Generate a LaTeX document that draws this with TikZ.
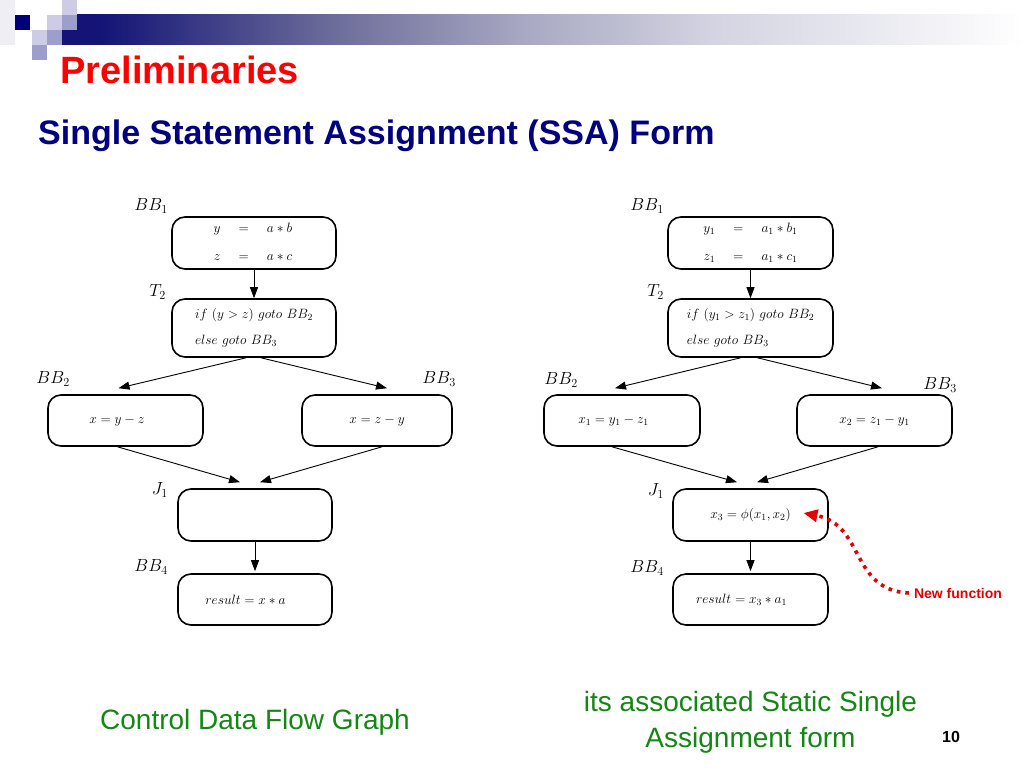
\RequirePackage{fix-cm}
\documentclass[tikz,border=0pt]{standalone}
\usepackage{amsmath,amssymb}
\usepackage[no-math]{fontspec}
\usepackage{xcolor}
\usepackage{tikz}
\usetikzlibrary{arrows.meta}
\newfontfamily\slidefont{Liberation Sans}

\definecolor{hdrnavy}{RGB}{20,20,118}
\definecolor{hdrmid}{RGB}{108,108,154}
\definecolor{hdrgrey}{RGB}{168,168,194}
\definecolor{hdrpale}{RGB}{212,212,226}
\definecolor{hdrfaint}{RGB}{238,238,244}
\definecolor{sqlight}{RGB}{204,204,228}
\definecolor{sqmid}{RGB}{158,158,204}
\definecolor{sqdark}{RGB}{0,0,122}
\definecolor{titlered}{RGB}{255,0,0}
\definecolor{subnavy}{RGB}{0,0,128}
\definecolor{capgreen}{RGB}{20,134,20}
\definecolor{noteRed}{RGB}{230,0,0}

\pgfdeclarehorizontalshading{hdrfade}{100bp}{color(0bp)=(hdrnavy); color(27bp)=(hdrnavy);
  color(39bp)=(hdrmid); color(49bp)=(hdrgrey); color(59bp)=(hdrpale);
  color(69bp)=(hdrfaint); color(75bp)=(white); color(100bp)=(white)}

\begin{document}
\begin{tikzpicture}[x=1pt,y=-1pt,
    blk/.style={draw,line width=1.6pt,rounded corners=13pt,inner sep=0pt,
      font=\fontsize{13.5}{16}\selectfont},
    lbl/.style={anchor=east,inner sep=0pt,font=\fontsize{17.5}{20}\selectfont},
    flow/.style={-{Triangle[length=11pt,width=8pt]},line width=0.9pt},
    note/.style={noteRed,line width=3.6pt,dash pattern=on 3.6pt off 5pt,
      -{Triangle[length=14pt,width=12pt]}},
    txt/.style={inner sep=0pt,font=\slidefont}]
    %
    \useasboundingbox (0,0) rectangle (1024,768);
    \fill[white] (0,0) rectangle (1024,768);
    %
    % header bar and squares
    \shade[shading=hdrfade] (62,15) rectangle (1024,45);
    \fill[hdrfaint] (0,0) rectangle (15,45);
    \fill[sqdark] (15,15) rectangle (30,30);
    \fill[sqlight] (62,0) rectangle (77,15);
    \fill[sqlight] (47,15) rectangle (62,30);
    \fill[sqmid] (62,15) rectangle (77,30);
    \fill[sqlight] (32,30) rectangle (47,45);
    \fill[sqmid] (47,30) rectangle (62,45);
    \fill[sqmid] (32,45) rectangle (47,60);
    %
    \node[txt,anchor=base west,text=titlered,font=\slidefont\bfseries\fontsize{38}{44}\selectfont]
      (title) at (60,83) {Preliminaries};
    \node[txt,anchor=base west,text=subnavy,font=\slidefont\bfseries\fontsize{34}{40}\selectfont]
      (subtitle) at (38,144) {Single Statement Assignment (SSA) Form};
    %
    % control data flow graph
    \node[blk,minimum width=164pt,minimum height=52pt] (bb1l) at (254,243)
      {\setlength{\arraycolsep}{9pt}$\begin{array}{rcl} y & = & a*b\\[12pt] z & = & a*c\end{array}$\kern2pt};
    \node[blk,minimum width=164pt,minimum height=58pt,align=left] (t2l) at (254,328)
      {$if\ (y>z)\ goto\ BB_2$\\[10pt]$else\ goto\ BB_3$};
    \node[blk,minimum width=155pt,minimum height=51pt] (bb2l) at (125.5,420.5) {$x=y-z$\kern17pt};
    \node[blk,minimum width=150pt,minimum height=51pt] (bb3l) at (377,420.5) {$x=z-y$};
    \node[blk,minimum width=154pt,minimum height=52pt] (j1l) at (255,515) {};
    \node[blk,minimum width=154pt,minimum height=51pt] (bb4l) at (255,599.5) {$result=x*a$\kern19pt};
    %
    \node[lbl] (bb1llbl) at (168,206) {$BB_1$};
    \node[lbl] (t2llbl) at (166,292) {$T_2$};
    \node[lbl] (bb2llbl) at (70,379) {$BB_2$};
    \node[lbl] (bb3llbl) at (456,379) {$BB_3$};
    \node[lbl] (j1llbl) at (168,490) {$J_1$};
    \node[lbl] (bb4llbl) at (168,567) {$BB_4$};
    %
    \draw[flow] (bb1l.south) -- (t2l.north);
    \draw[flow] ([xshift=-8pt]t2l.south) -- ([xshift=-7pt,yshift=6pt]bb2l.north);
    \draw[flow] ([xshift=7pt]t2l.south) -- ([xshift=10pt,yshift=6pt]bb3l.north);
    \draw[flow] ([xshift=-8pt]bb2l.south) -- ([xshift=-15pt,yshift=6pt]j1l.north);
    \draw[flow] ([xshift=5pt]bb3l.south) -- ([xshift=5pt,yshift=6pt]j1l.north);
    \draw[flow] (j1l.south) -- ([yshift=2pt]bb4l.north);
    %
    % static single assignment form
    \node[blk,minimum width=165pt,minimum height=52pt] (bb1r) at (750.5,243)
      {\setlength{\arraycolsep}{9pt}$\begin{array}{rcl} y_1 & = & a_1*b_1\\[12pt] z_1 & = & a_1*c_1\end{array}$};
    \node[blk,minimum width=165pt,minimum height=58pt,align=left] (t2r) at (750.5,328)
      {$if\ (y_1>z_1)\ goto\ BB_2$\\[10pt]$else\ goto\ BB_3$};
    \node[blk,minimum width=156pt,minimum height=51pt] (bb2r) at (622,420.5) {$x_1=y_1-z_1$\kern17pt};
    \node[blk,minimum width=155pt,minimum height=51pt] (bb3r) at (874.5,420.5) {$x_2=z_1-y_1$};
    \node[blk,minimum width=155pt,minimum height=52pt] (j1r) at (750.5,515) {$x_3=\phi(x_1,x_2)$};
    \node[blk,minimum width=155pt,minimum height=51pt] (bb4r) at (750.5,599.5) {$result=x_3*a_1$\kern18pt};
    %
    \node[lbl] (bb1rlbl) at (664,206) {$BB_1$};
    \node[lbl] (t2rlbl) at (664,292) {$T_2$};
    \node[lbl] (bb2rlbl) at (578,380) {$BB_2$};
    \node[lbl] (bb3rlbl) at (957,385) {$BB_3$};
    \node[lbl] (j1rlbl) at (664,491) {$J_1$};
    \node[lbl] (bb4rlbl) at (664,568) {$BB_4$};
    %
    \draw[flow] (bb1r.south) -- (t2r.north);
    \draw[flow] ([xshift=-10pt]t2r.south) -- ([xshift=-7pt,yshift=6pt]bb2r.north);
    \draw[flow] ([xshift=7pt]t2r.south) -- ([xshift=7.5pt,yshift=6pt]bb3r.north);
    \draw[flow] ([xshift=-10pt]bb2r.south) -- ([xshift=-13.5pt,yshift=6pt]j1r.north);
    \draw[flow] ([xshift=3.5pt]bb3r.south) -- ([xshift=6.5pt,yshift=6pt]j1r.north);
    \draw[flow] (j1r.south) -- ([yshift=2pt]bb4r.north);
    %
    \node[txt,text=noteRed,font=\slidefont\bfseries\fontsize{14}{16}\selectfont]
      (newfn) at (958,593) {New function};
    \draw[note] ([xshift=-5pt]newfn.west) .. controls (850,590) and (865,525) .. ([xshift=53pt,yshift=2pt]j1r.center);
    %
    % captions
    \node[txt,anchor=base,text=capgreen,font=\slidefont\fontsize{28}{34}\selectfont]
      (cdfgcap) at (255,729) {Control Data Flow Graph};
    \node[txt,anchor=north,align=center,text=capgreen,font=\slidefont\fontsize{28}{36}\selectfont]
      (ssacap) at (750.5,690.5) {its associated Static Single\\Assignment form};
    \node[txt,anchor=base,font=\slidefont\bfseries\fontsize{16}{18}\selectfont]
      (pagenum) at (951,742) {10};
    %
\end{tikzpicture}
\end{document}
